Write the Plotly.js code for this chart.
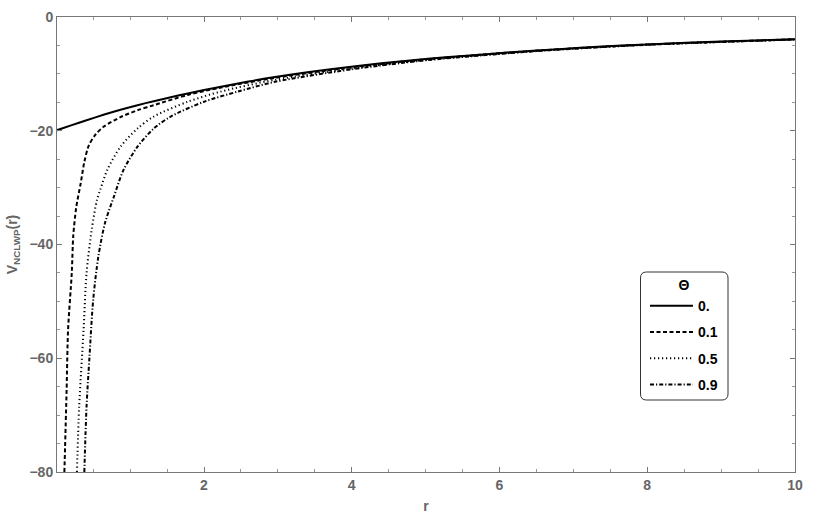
<!DOCTYPE html>
<html><head><meta charset="utf-8">
<script src="https://cdn.plot.ly/plotly-3.0.1.min.js"></script>
<style>html,body{margin:0;padding:0;background:#fff}#chart{width:837px;height:519px}</style>
</head><body><div id="chart"></div>
<script>
// Legend labels (Θ values)
const thetaLabels = ['0.', '0.1', '0.5', '0.9'];

// Θ = 0 (solid)
const r0 = [0.01, 0.2, 0.41, 0.65, 0.87, 1.1, 1.32, 1.55, 1.78, 2.0, 2.23, 2.6, 2.96, 3.4, 3.85, 4.4, 5.03, 5.6, 6.21, 6.8, 7.39, 8.0, 9.0, 10.0];
const v0 = [-19.9, -19.05, -18.15, -17.15, -16.3, -15.5, -14.8, -14.1, -13.45, -12.85, -12.25, -11.35, -10.55, -9.7, -8.95, -8.15, -7.35, -6.75, -6.15, -5.65, -5.2, -4.82, -4.3, -3.92];

// Θ = 0.1 (dashed)
const r1 = [0.11, 0.14, 0.16, 0.21, 0.23, 0.27, 0.33, 0.38, 0.44, 0.53, 0.64, 0.87, 1.1, 1.32, 1.78, 2.23, 2.96, 4.0, 5.0, 6.57, 8.0, 10.0];
const v1 = [-80, -65.6, -55, -45, -38.5, -33.5, -29.3, -25.5, -22.6, -20.7, -19.3, -17.6, -16.4, -15.5, -13.7, -12.4, -10.7, -8.85, -7.45, -5.86, -4.84, -3.93];

// Θ = 0.5 (dotted)
const r5 = [0.28, 0.31, 0.37, 0.41, 0.48, 0.55, 0.60, 0.69, 0.87, 1.1, 1.32, 1.78, 2.23, 2.96, 4.0, 5.0, 6.57, 8.0, 10.0];
const v5 = [-80, -68.5, -55, -45, -37.4, -32.2, -30.2, -26.9, -22.8, -19.6, -17.5, -14.9, -13.1, -11.05, -9.05, -7.55, -5.9, -4.87, -3.94];

// Θ = 0.9 (dash-dot)
const r9 = [0.38, 0.41, 0.45, 0.50, 0.57, 0.66, 0.78, 0.91, 1.1, 1.32, 1.55, 2.0, 2.46, 2.96, 4.0, 5.0, 6.57, 8.0, 10.0];
const v9 = [-80, -68.5, -59.7, -49.7, -42.1, -36.2, -31.6, -26.9, -22.8, -19.6, -17.5, -14.9, -13.1, -11.4, -9.2, -7.62, -5.94, -4.89, -3.95];

// Axis ticks
const xTicks = [2, 4, 6, 8, 10];
const yTicks = [0, -20, -40, -60, -80];

const xs = [r0, r1, r5, r9];
const ys = [v0, v1, v5, v9];
const dashes = ['solid', '4px,2.5px', '1.2px,2.8px', '4px,2px,1.2px,2px'];

const traces = xs.map((x, i) => ({
  x: x, y: ys[i], type: 'scatter', mode: 'lines',
  name: thetaLabels[i], legendgroup: 'g' + i,
  line: {color: '#000', width: 2, dash: dashes[i], shape: 'spline', smoothing: 0.8},
  hoverinfo: 'skip'
}));

const W = 837, H = 519, ml = 57, mr = 42, mt = 17, mb = 47;
const pw = W - ml - mr, ph = H - mt - mb;
const px = v => (v - ml) / pw;
const py = v => (H - mb - v) / ph;
function roundRect(x0, y0, x1, y1, rad) {
  const rx = rad / pw, ry = rad / ph;
  const a = px(x0), b = px(x1), t = py(y0), u = py(y1);
  return `M ${a+rx},${t} L ${b-rx},${t} Q ${b},${t} ${b},${t-ry} L ${b},${u+ry} Q ${b},${u} ${b-rx},${u} ` +
         `L ${a+rx},${u} Q ${a},${u} ${a},${u+ry} L ${a},${t-ry} Q ${a},${t} ${a+rx},${t} Z`;
}

const tickFont = {family: 'Liberation Sans, Arial, sans-serif', size: 14, color: '#666', weight: 'bold'};
const axisCommon = {
  showgrid: false, zeroline: false, showline: true, linecolor: '#777', linewidth: 1,
  mirror: 'allticks', ticks: 'inside', ticklen: 5, tickwidth: 1, tickcolor: '#777',
  tickfont: tickFont, tickmode: 'array'
};

const layout = {
  width: W, height: H,
  margin: {l: ml, r: mr, t: mt, b: mb, pad: 0},
  paper_bgcolor: '#fff', plot_bgcolor: '#fff',
  showlegend: true,
  xaxis: Object.assign({}, axisCommon, {
    range: [0.01, 10], tickvals: xTicks, ticktext: xTicks.map(String),
    minor: {tickmode: 'linear', tick0: 0, dtick: 0.5, ticks: 'inside', ticklen: 3, tickcolor: '#999', showgrid: false},
    title: {text: 'r', font: tickFont, standoff: 9}
  }),
  yaxis: Object.assign({}, axisCommon, {
    range: [-80, 0], tickvals: yTicks, ticktext: yTicks.map(v => v === 0 ? '0' : '\u2212' + Math.abs(v)),
    minor: {tickmode: 'linear', tick0: 0, dtick: 5, ticks: 'inside', ticklen: 3, tickcolor: '#999', showgrid: false},
    title: {text: 'V<sub>NCLWP</sub>(r)', font: tickFont, standoff: 8}
  }),
  legend: {
    x: px(645), y: py(272), xanchor: 'left', yanchor: 'top',
    bgcolor: 'rgba(0,0,0,0)', borderwidth: 0,
    font: {family: 'Liberation Sans, Arial, sans-serif', size: 14, color: '#000', weight: 'bold'},
    title: {text: 'Θ', side: 'top center', font: {family: 'Liberation Sans, Arial, sans-serif', size: 14, color: '#000', weight: 'bold'}},
    itemwidth: 43, tracegroupgap: 5, itemclick: false
  },
  shapes: [{
    type: 'path', xref: 'paper', yref: 'paper', path: roundRect(640.5, 272, 728, 400, 6),
    line: {color: '#333', width: 1}, fillcolor: 'rgba(255,255,255,1)', layer: 'below'
  }]
};

Plotly.newPlot('chart', traces, layout, {staticPlot: true, displayModeBar: false});
</script></body></html>
